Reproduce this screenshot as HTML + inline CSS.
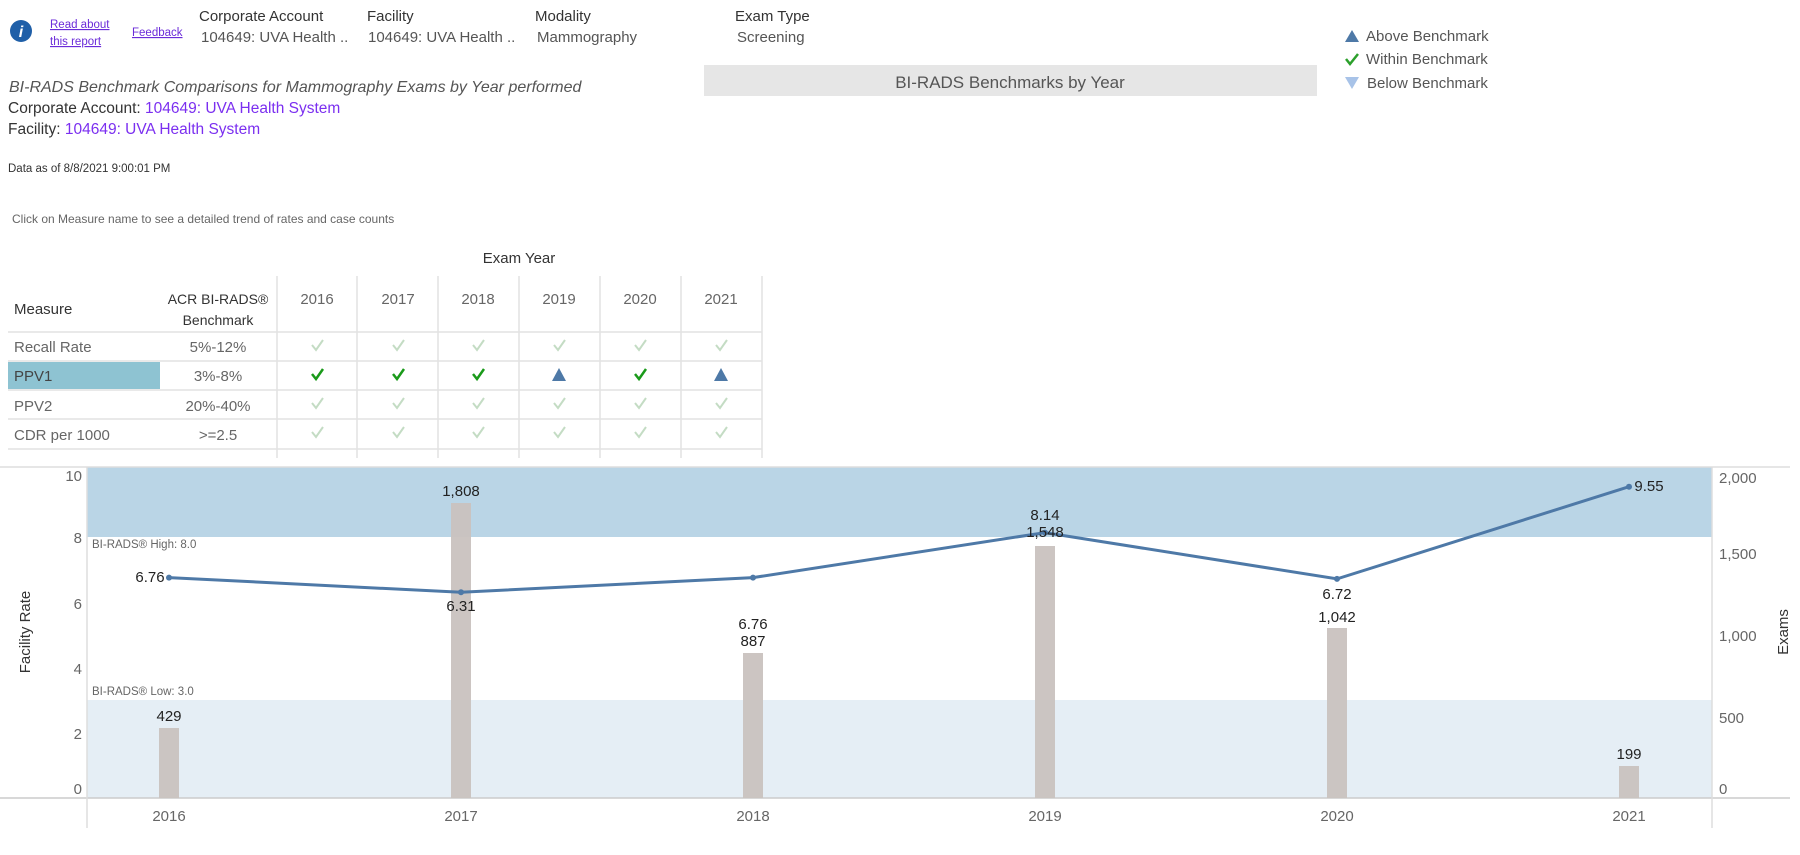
<!DOCTYPE html>
<html><head><meta charset="utf-8"><style>
html,body{margin:0;padding:0;background:#fff}
svg text{font-family:"Liberation Sans Narrow","Liberation Sans",sans-serif}
</style></head><body>
<svg width="1800" height="850" xmlns="http://www.w3.org/2000/svg">
<!-- header -->
<circle cx="21" cy="31" r="11" fill="#1f5fa8"/>
<text x="21" y="37" font-size="16" font-style="italic" font-weight="bold" fill="#fff" text-anchor="middle" font-family="Liberation Serif">i</text>
<text x="50" y="28" font-size="11.5" fill="#6b2bd9" text-decoration="underline">Read about</text>
<text x="50" y="45" font-size="11.5" fill="#6b2bd9" text-decoration="underline">this report</text>
<text x="132" y="36" font-size="11.5" fill="#6b2bd9" text-decoration="underline">Feedback</text>
<g font-size="15" fill="#333">
<text x="199" y="21">Corporate Account</text>
<text x="367" y="21">Facility</text>
<text x="535" y="21">Modality</text>
<text x="735" y="21">Exam Type</text>
</g>
<g font-size="15" fill="#555">
<text x="201" y="42">104649: UVA Health ..</text>
<text x="368" y="42">104649: UVA Health ..</text>
<text x="537" y="42">Mammography</text>
<text x="737" y="42">Screening</text>
</g>
<rect x="704" y="65" width="613" height="31" fill="#e6e6e6"/>
<text x="1010" y="88" font-size="17" fill="#555" text-anchor="middle">BI-RADS Benchmarks by Year</text>
<polygon points="1352,30 1359,42 1345,42" fill="#4e79a7"/>
<path d="M1346,59 l4,5 l8,-10" stroke="#2ca02c" stroke-width="2.5" fill="none"/>
<polygon points="1345,77 1359,77 1352,89" fill="#a8c3e8"/>
<g font-size="15" fill="#555">
<text x="1366" y="41">Above Benchmark</text>
<text x="1366" y="64">Within Benchmark</text>
<text x="1367" y="88">Below Benchmark</text>
</g>
<text x="9" y="92" font-size="16" font-style="italic" fill="#555">BI-RADS Benchmark Comparisons for Mammography Exams by Year performed</text>
<text x="8" y="113" font-size="15.5" fill="#333">Corporate Account: <tspan fill="#7b2ff0">104649: UVA Health System</tspan></text>
<text x="8" y="134" font-size="15.5" fill="#333">Facility: <tspan fill="#7b2ff0">104649: UVA Health System</tspan></text>
<text x="8" y="172" font-size="11.5" fill="#333">Data as of 8/8/2021 9:00:01 PM</text>
<text x="12" y="223" font-size="12" fill="#666">Click on Measure name to see a detailed trend of rates and case counts</text>
<text x="519" y="263" font-size="15" fill="#333" text-anchor="middle">Exam Year</text>
<!-- table -->
<g stroke="#e2e2e2" stroke-width="1.5">
<line x1="277" y1="276" x2="277" y2="458"/><line x1="357" y1="276" x2="357" y2="458"/>
<line x1="438" y1="276" x2="438" y2="458"/><line x1="519" y1="276" x2="519" y2="458"/>
<line x1="600" y1="276" x2="600" y2="458"/><line x1="681" y1="276" x2="681" y2="458"/>
<line x1="762" y1="276" x2="762" y2="458"/>
<line x1="8" y1="332" x2="762" y2="332"/><line x1="8" y1="361" x2="762" y2="361"/>
<line x1="8" y1="390" x2="762" y2="390"/><line x1="8" y1="419" x2="762" y2="419"/>
<line x1="8" y1="449" x2="762" y2="449"/>
</g>
<rect x="8" y="362" width="152" height="27" fill="#8ec3d2"/>
<text x="14" y="314" font-size="15" fill="#333">Measure</text>
<text x="218" y="304" font-size="14" fill="#333" text-anchor="middle">ACR BI-RADS®</text>
<text x="218" y="325" font-size="14" fill="#333" text-anchor="middle">Benchmark</text>
<g font-size="15" fill="#666" text-anchor="middle">
<text x="317" y="304">2016</text><text x="398" y="304">2017</text><text x="478" y="304">2018</text>
<text x="559" y="304">2019</text><text x="640" y="304">2020</text><text x="721" y="304">2021</text>
</g>
<g font-size="15" fill="#666">
<text x="14" y="352">Recall Rate</text><text x="14" y="381" fill="#444">PPV1</text>
<text x="14" y="411">PPV2</text><text x="14" y="440">CDR per 1000</text>
</g>
<g font-size="15" fill="#666" text-anchor="middle">
<text x="218" y="352">5%-12%</text><text x="218" y="381">3%-8%</text>
<text x="218" y="411">20%-40%</text><text x="218" y="440">&gt;=2.5</text>
</g>
<g fill="none" stroke-width="2">
<g stroke="#c4dcc4">
<path d="M312,345 l4,5 l7,-10 M393,345 l4,5 l7,-10 M473,345 l4,5 l7,-10 M554,345 l4,5 l7,-10 M635,345 l4,5 l7,-10 M716,345 l4,5 l7,-10"/>
<path d="M312,403 l4,5 l7,-10 M393,403 l4,5 l7,-10 M473,403 l4,5 l7,-10 M554,403 l4,5 l7,-10 M635,403 l4,5 l7,-10 M716,403 l4,5 l7,-10"/>
<path d="M312,432 l4,5 l7,-10 M393,432 l4,5 l7,-10 M473,432 l4,5 l7,-10 M554,432 l4,5 l7,-10 M635,432 l4,5 l7,-10 M716,432 l4,5 l7,-10"/>
</g>
<path stroke="#1a9a1a" stroke-width="2.5" d="M312,374 l4,5 l7,-10 M393,374 l4,5 l7,-10 M473,374 l4,5 l7,-10 M635,374 l4,5 l7,-10"/>
</g>
<polygon points="559,368 566,381 552,381" fill="#4e79a7"/>
<polygon points="721,368 728,381 714,381" fill="#4e79a7"/>
<!-- chart -->
<rect x="87" y="467" width="1625" height="70" fill="#bad5e6"/>
<rect x="87" y="700" width="1625" height="98" fill="#e5eef5"/>
<line x1="0" y1="467" x2="1790" y2="467" stroke="#ddd" stroke-width="1.5"/>
<line x1="0" y1="798" x2="1790" y2="798" stroke="#ccc" stroke-width="1.5"/>
<line x1="87" y1="467" x2="87" y2="828" stroke="#ddd" stroke-width="1.5"/>
<line x1="1712" y1="467" x2="1712" y2="828" stroke="#ddd" stroke-width="1.5"/>
<text x="92" y="548" font-size="11.5" fill="#666">BI-RADS® High: 8.0</text>
<text x="92" y="695" font-size="11.5" fill="#666">BI-RADS® Low: 3.0</text>
<g fill="#c9c2bf" opacity="0.95">
<rect x="159" y="728" width="20" height="70"/>
<rect x="451" y="503" width="20" height="295"/>
<rect x="743" y="653" width="20" height="145"/>
<rect x="1035" y="546" width="20" height="252"/>
<rect x="1327" y="628" width="20" height="170"/>
<rect x="1619" y="766" width="20" height="32"/>
</g>
<polyline points="169,577.6 461,592.3 753,577.6 1045,532.6 1337,578.9 1629,486.7" fill="none" stroke="#4e79a7" stroke-width="3"/>
<g fill="#4e79a7"><circle cx="169" cy="577.6" r="3"/><circle cx="461" cy="592.3" r="3"/><circle cx="753" cy="577.6" r="3"/><circle cx="1045" cy="532.6" r="3"/><circle cx="1337" cy="578.9" r="3"/><circle cx="1629" cy="486.7" r="3"/></g>
<g font-size="15" fill="#222" text-anchor="middle">
<text x="150" y="582">6.76</text><text x="461" y="611">6.31</text><text x="753" y="629">6.76</text>
<text x="1045" y="520">8.14</text><text x="1045" y="537">1,548</text><text x="1337" y="599">6.72</text>
<text x="1337" y="622">1,042</text><text x="1649" y="491">9.55</text>
<text x="461" y="496">1,808</text><text x="753" y="646">887</text><text x="169" y="721">429</text><text x="1629" y="759">199</text>
</g>
<g font-size="15" fill="#666" text-anchor="end">
<text x="82" y="481">10</text><text x="82" y="543">8</text><text x="82" y="609">6</text>
<text x="82" y="674">4</text><text x="82" y="739">2</text><text x="82" y="794">0</text>
</g>
<g font-size="15" fill="#666">
<text x="1719" y="483">2,000</text><text x="1719" y="559">1,500</text><text x="1719" y="641">1,000</text>
<text x="1719" y="723">500</text><text x="1719" y="794">0</text>
</g>
<text transform="translate(30,632) rotate(-90)" font-size="15" fill="#333" text-anchor="middle">Facility Rate</text>
<text transform="translate(1788,632) rotate(-90)" font-size="15" fill="#333" text-anchor="middle">Exams</text>
<g font-size="15" fill="#666" text-anchor="middle">
<text x="169" y="821">2016</text><text x="461" y="821">2017</text><text x="753" y="821">2018</text>
<text x="1045" y="821">2019</text><text x="1337" y="821">2020</text><text x="1629" y="821">2021</text>
</g>
</svg>
</body></html>
